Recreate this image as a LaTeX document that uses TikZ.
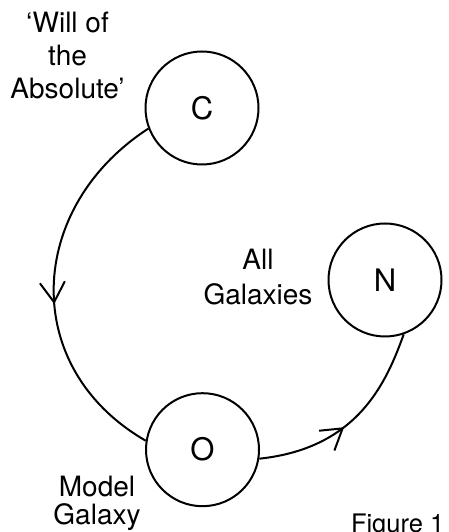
\documentclass[tikz,border=0pt]{standalone}
\usepackage{fontspec}
\setmainfont{TeX Gyre Heros}
\usetikzlibrary{arrows.meta,decorations.markings}
\begin{document}
\begin{tikzpicture}[x=1pt,y=1pt,line width=2pt,
  galaxy/.style={circle,draw,minimum size=113pt,inner sep=0pt,font=\fontsize{31}{31}\selectfont},
  caption/.style={align=center,inner sep=0pt,font=\fontsize{28}{33}\selectfont},
  midarrow/.style={postaction={decorate},decoration={markings,
    mark=at position #1 with {\arrow{Straight Barb[length=20pt,width=25pt]}}}}]
  \useasboundingbox (0,0) rectangle (448,532);
  % the three stages
  \node[galaxy] (C) at (202,424) {C};
  \node[galaxy] (N) at (385,252) {N};
  \node[galaxy] (O) at (202.5,82.3) {O};
  % labels
  \node[caption] (will) at (67.5,476.7) {‘Will of\\the\\Absolute’};
  \node[caption,font=\fontsize{28}{35}\selectfont] (all) at (258,254.5) {All\\Galaxies};
  \node[caption,font=\fontsize{28}{28}\selectfont] (model) at (97,28.3) {Model\\Galaxy};
  \node[anchor=base west,inner sep=0pt,font=\fontsize{25.5}{25.5}\selectfont] (fig) at (350,-0.7) {Figure 1};
  % descent from C to O, then out towards N
  \draw[midarrow=0.55] (C.201) .. controls +(213:146) and +(150:146) .. (O.171);
  \draw[midarrow=0.45] (O.-9.5) .. controls +(6:100) and +(250:50) .. (N.289);
\end{tikzpicture}
\end{document}
